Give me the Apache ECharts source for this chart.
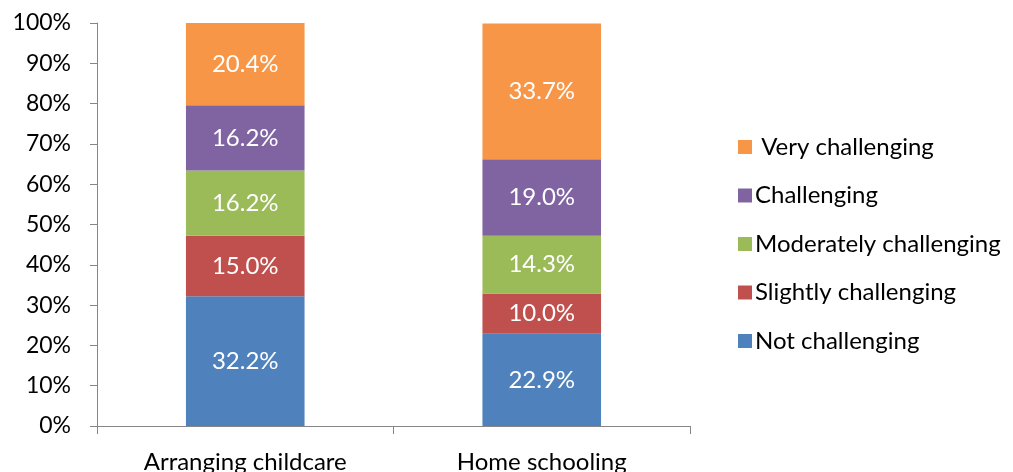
<!DOCTYPE html>
<html>
<head>
<meta charset="utf-8">
<script src="https://cdn.jsdelivr.net/npm/echarts@6/dist/echarts.min.js"></script>
<style>html,body{margin:0;padding:0;background:#fff;}#c{width:1013px;height:472px;}</style>
</head>
<body>
<div id="c"></div>
<script>
const categories = ['Arranging childcare', 'Home schooling'];
const notChallenging = [32.2, 22.9];
const slightlyChallenging = [15.0, 10.0];
const moderatelyChallenging = [16.2, 14.3];
const challenging = [16.2, 19.0];
const veryChallenging = [20.4, 33.7];
const yTicks = [0, 10, 20, 30, 40, 50, 60, 70, 80, 90, 100];

const FONT = 'Lato, "Open Sans", sans-serif';
const seriesDefs = [
  { name: 'Not challenging', data: notChallenging, color: '#4F81BD' },
  { name: 'Slightly challenging', data: slightlyChallenging, color: '#C0504D' },
  { name: 'Moderately challenging', data: moderatelyChallenging, color: '#9BBB59' },
  { name: 'Challenging', data: challenging, color: '#8064A2' },
  { name: ' Very challenging', data: veryChallenging, color: '#F79646' }
];

const chart = echarts.init(document.getElementById('c'));
chart.setOption({
  animation: false,
  textStyle: { fontFamily: FONT },
  grid: { left: 97, right: 323, top: 23, bottom: 46, outerBoundsMode: 'none', containLabel: false },
  legend: {
    orient: 'vertical',
    left: 733,
    top: 130,
    itemWidth: 14,
    itemHeight: 14,
    itemGap: 24.5,
    icon: 'rect',
    data: seriesDefs.map(s => s.name).reverse(),
    textStyle: { fontSize: 24, color: '#000', fontFamily: FONT, padding: [0, 0, 0, -2] }
  },
  xAxis: {
    type: 'category',
    data: categories,
    axisLine: { lineStyle: { color: '#868686', width: 1 } },
    axisTick: { show: true, length: 8, lineStyle: { color: '#868686' } },
    axisLabel: { fontSize: 24, color: '#000', margin: 24, fontFamily: FONT }
  },
  yAxis: {
    type: 'value',
    min: yTicks[0],
    max: yTicks[yTicks.length - 1],
    interval: 10,
    axisLine: { show: true, lineStyle: { color: '#868686', width: 1 } },
    axisTick: { show: true, length: 7, lineStyle: { color: '#868686' } },
    splitLine: { show: false },
    axisLabel: { fontSize: 23, color: '#000', margin: 26, formatter: v => v + '%', fontFamily: FONT }
  },
  series: seriesDefs.map(s => ({
    name: s.name,
    type: 'bar',
    stack: 'total',
    data: s.data,
    barWidth: '40%',
    itemStyle: { color: s.color },
    label: {
      show: true,
      position: 'inside',
      color: '#fff',
      fontSize: 24,
      fontFamily: FONT,
      formatter: p => p.value.toFixed(1) + '%'
    }
  }))
});
</script>
</body>
</html>
